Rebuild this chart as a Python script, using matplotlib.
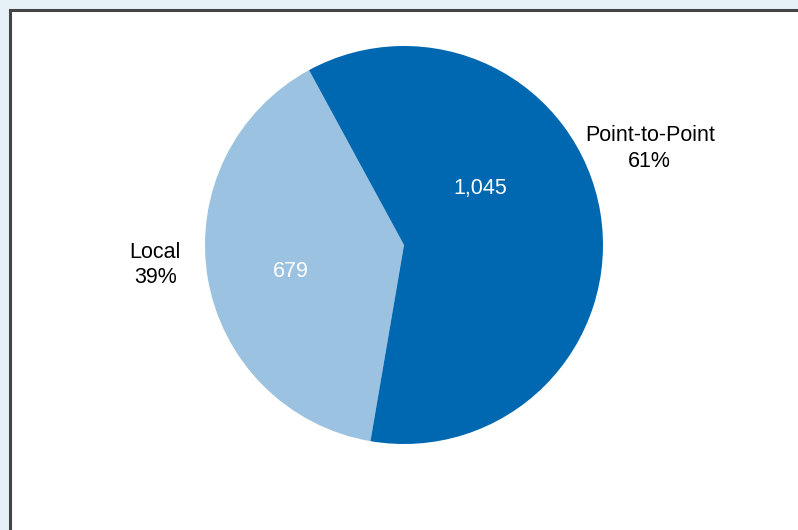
import matplotlib.pyplot as plt
from matplotlib.patches import Rectangle

plt.rcParams['font.family'] = ['Liberation Sans', 'DejaVu Sans']

categories = ['Local', 'Point-to-Point']
counts = [679, 1045]
shares = ['39%', '61%']
colors = ['#9bc2e1', '#0067b1']

W, H = 798, 530
fig = plt.figure(figsize=(W / 100, H / 100), dpi=100)
fig.patch.set_facecolor('#e6f0f7')

# white panel with dark frame, running off the right and bottom edges
fig.patches.append(Rectangle((9.5 / W, -0.1), 1.2, (H - 9.5) / H + 0.1,
                             transform=fig.transFigure, facecolor='white',
                             edgecolor='#444444', linewidth=2.2, zorder=-1))

# pie centred at (404, 245) px with a radius of ~199 px
R = 199.0
span = 1.6
cx, cy = 404.0, H - 245.0
ax = fig.add_axes([(cx - span * R) / W, (cy - span * R) / H,
                   2 * span * R / W, 2 * span * R / H])
ax.set_zorder(1)

total = sum(counts)
local_span = 360.0 * counts[0] / total
start = 189.4 - local_span / 2
ax.pie(counts, colors=colors, startangle=start, counterclock=True,
       radius=1.0, wedgeprops=dict(linewidth=0))
ax.set_xlim(-span, span)
ax.set_ylim(-span, span)
ax.set_aspect('equal')
ax.axis('off')

fs = 15.5

# category labels outside the pie
ax.text(-1.25, -0.1, f'{categories[0]}\n{shares[0]}', ha='center', va='center',
        fontsize=fs, linespacing=1.27, color='black')
ax.text(1.235, 0.485, f'{categories[1]}\n{shares[1]}', ha='center', va='center',
        fontsize=fs, linespacing=1.27, color='black')

# counts inside the wedges
ax.text(-0.57, -0.135, f'{counts[0]:,}', ha='center', va='center',
        fontsize=fs, color='white')
ax.text(0.385, 0.285, f'{counts[1]:,}', ha='center', va='center',
        fontsize=fs, color='white')

fig.savefig('out.png', dpi=100, facecolor=fig.get_facecolor())
